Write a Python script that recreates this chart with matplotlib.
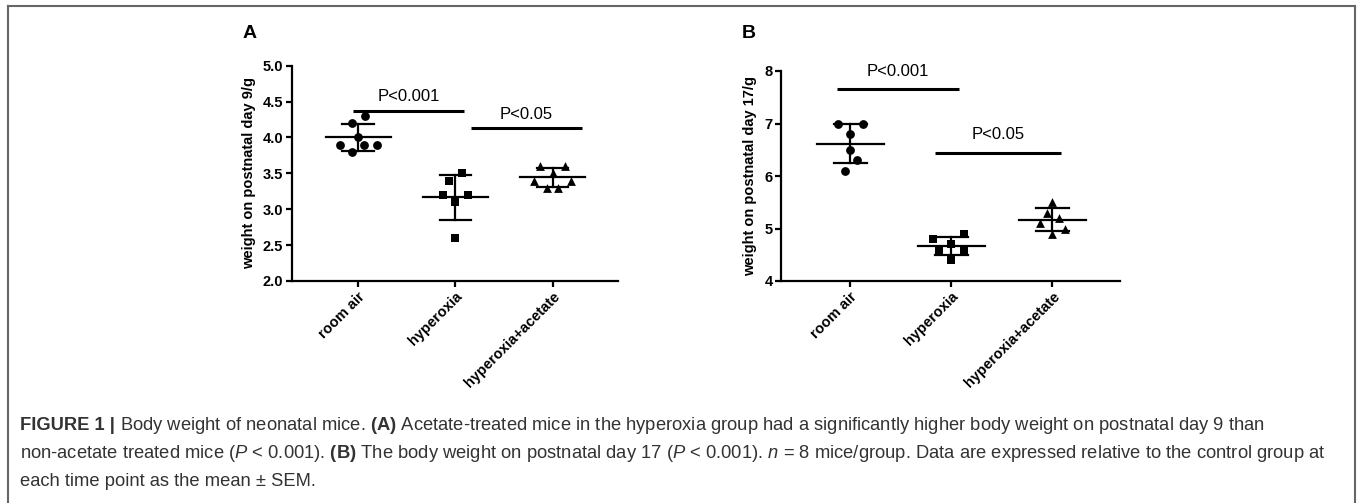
import matplotlib
matplotlib.use("Agg")
import matplotlib.pyplot as plt
import numpy as np

plt.rcParams['font.family'] = ['Liberation Sans', 'DejaVu Sans']
plt.rcParams['mathtext.fontset'] = 'custom'
plt.rcParams['mathtext.rm'] = 'Liberation Sans'
plt.rcParams['mathtext.it'] = 'Liberation Sans:italic'
plt.rcParams['mathtext.bf'] = 'Liberation Sans:bold'

groups = ["room air", "hyperoxia", "hyperoxia+acetate"]

# Panel A: weight on postnatal day 9 (g)
a_room = [4.3, 4.2, 4.0, 3.9, 3.9, 3.9, 3.8]
a_room_dx = [0.07, -0.06, 0.0, -0.19, 0.06, 0.19, -0.06]
a_hyp = [3.5, 3.4, 3.2, 3.2, 3.1, 2.6]
a_hyp_dx = [0.07, -0.065, -0.125, 0.125, 0.0, 0.0]
a_ace = [3.6, 3.6, 3.5, 3.4, 3.4, 3.3, 3.3]
a_ace_dx = [-0.13, 0.13, 0.0, -0.19, 0.19, -0.06, 0.06]

# Panel B: weight on postnatal day 17 (g)
b_room = [7.0, 7.0, 6.8, 6.5, 6.3, 6.1]
b_room_dx = [-0.12, 0.13, 0.0, 0.0, 0.065, -0.055]
b_hyp = [4.8, 4.9, 4.7, 4.6, 4.6, 4.4]
b_hyp_dx = [-0.18, 0.125, 0.0, -0.12, 0.125, 0.0]
b_ace = [5.5, 5.3, 5.2, 5.1, 5.0, 4.9]
b_ace_dx = [0.0, -0.057, 0.066, -0.117, 0.13, 0.0]

a_sig = [("P<0.001", -0.05, 1.09, 4.373), ("P<0.05", 1.16, 2.30, 4.127)]
b_sig = [("P<0.001", -0.13, 1.08, 7.65), ("P<0.05", 0.84, 2.09, 6.444)]

markers = ["o", "s", "^"]

W, H = 1357, 503
fig = plt.figure(figsize=(W / 100, H / 100), dpi=100)

# outer frame (top, left, right)
fig.add_artist(plt.Line2D([8 / W, 1355 / W], [1 - 6 / H, 1 - 6 / H], color="#666666", lw=1.5))
fig.add_artist(plt.Line2D([8 / W, 8 / W], [1 - 6 / H, 0], color="#666666", lw=1.5))
fig.add_artist(plt.Line2D([1355 / W, 1355 / W], [1 - 6 / H, 0], color="#666666", lw=1.5))


def panel(rect, data, dxs, sig, ylim, yticks, yfmt, ylabel, letter, letter_xy, text_dy):
    ax = fig.add_axes(rect)
    for i, (vals, dx) in enumerate(zip(data, dxs)):
        v = np.array(vals)
        m = v.mean()
        sd = v.std(ddof=1)
        ax.scatter(i + np.array(dx), v, marker=markers[i], s=40, color="black", zorder=3,
                   linewidths=0)
        ax.plot([i - 0.333, i + 0.333], [m, m], color="black", lw=1.6, zorder=2)
        ax.plot([i, i], [m - sd, m + sd], color="black", lw=1.6, zorder=2)
        for y in (m - sd, m + sd):
            ax.plot([i - 0.163, i + 0.163], [y, y], color="black", lw=1.6, zorder=2)
    for txt, x0, x1, y in sig:
        ax.plot([x0, x1], [y, y], color="black", lw=2.2, solid_capstyle="butt")
        ax.text((x0 + x1) / 2, y + text_dy, txt, ha="center", va="bottom", fontsize=12)
    ax.set_xlim(-0.685, 2.67)
    ax.set_ylim(*ylim)
    ax.set_yticks(yticks)
    ax.set_yticklabels([yfmt.format(t) for t in yticks], fontsize=10.5, fontweight="bold")
    ax.set_xticks(range(3))
    ax.set_xticklabels(groups, rotation=45, ha="right", rotation_mode="anchor",
                       fontsize=10.5, fontweight="bold")
    for s in ("top", "right"):
        ax.spines[s].set_visible(False)
    for s in ("left", "bottom"):
        ax.spines[s].set_linewidth(1.6)
    ax.tick_params(direction="out", length=4, width=1.6, pad=2)
    ax.set_ylabel(ylabel, fontsize=10.5, fontweight="bold", labelpad=5)
    fig.text(letter_xy[0] / W, 1 - letter_xy[1] / H, letter, fontsize=14, fontweight="bold",
             ha="left", va="center")
    return ax


panel([291.7 / W, (H - 281) / H, 326 / W, 215.3 / H],
      [a_room, a_hyp, a_ace], [a_room_dx, a_hyp_dx, a_ace_dx], a_sig,
      (2.0, 5.0), [2.0, 2.5, 3.0, 3.5, 4.0, 4.5, 5.0], "{:.1f}",
      "weight on postnatal day 9/g", "A", (243, 33), 0.09)

panel([781 / W, (H - 281) / H, 339 / W, 210 / H],
      [b_room, b_hyp, b_ace], [b_room_dx, b_hyp_dx, b_ace_dx], b_sig,
      (4, 8), [4, 5, 6, 7, 8], "{:d}",
      "weight on postnatal day 17/g", "B", (742, 33), 0.2)

cap_color = "#333333"
cap_fs = 13.2
x0 = 20 / W
lines_y = [426, 454, 481]
t = fig.text(x0, 1 - lines_y[0] / H, "FIGURE 1 | ", fontsize=cap_fs, fontweight="bold",
             color=cap_color, va="center", ha="left")
fig.canvas.draw()
bb = t.get_window_extent()
fig.text(bb.x1 / W, 1 - lines_y[0] / H,
         "Body weight of neonatal mice. $\\mathbf{(A)}$ Acetate-treated mice in the hyperoxia group had a significantly higher body weight on postnatal day 9 than",
         fontsize=cap_fs, color=cap_color, va="center", ha="left")
fig.text(x0, 1 - lines_y[1] / H,
         "non-acetate treated mice ($P$ < 0.001). $\\mathbf{(B)}$ The body weight on postnatal day 17 ($P$ < 0.001). $n$ = 8 mice/group. Data are expressed relative to the control group at",
         fontsize=cap_fs, color=cap_color, va="center", ha="left")
fig.text(x0, 1 - lines_y[2] / H, "each time point as the mean ± SEM.",
         fontsize=cap_fs, color=cap_color, va="center", ha="left")

fig.savefig("out.png", dpi=100)
